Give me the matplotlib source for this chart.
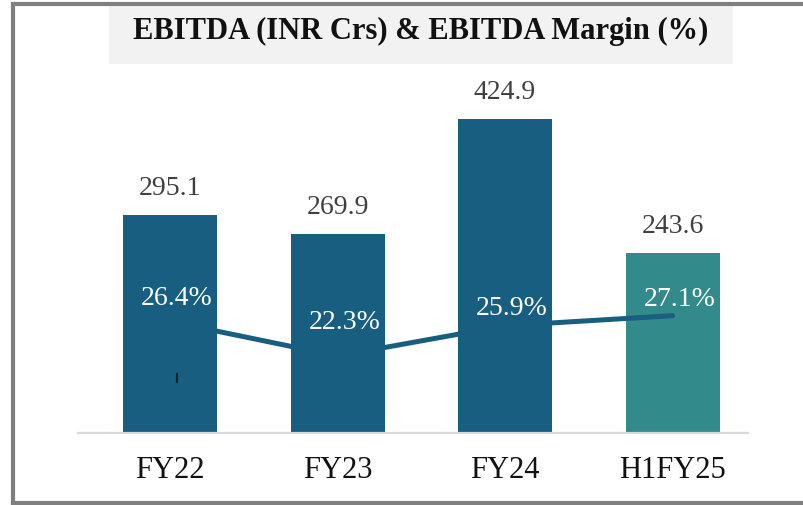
import matplotlib.pyplot as plt
from matplotlib.lines import Line2D
from matplotlib.patches import Rectangle

plt.rcParams['font.family'] = ['Liberation Serif', 'DejaVu Serif']

# ---------- data ----------
periods = ['FY22', 'FY23', 'FY24', 'H1FY25']
ebitda = [295.1, 269.9, 424.9, 243.6]          # INR Crs
margin = [26.4, 22.3, 25.9, 27.1]              # %

bar_colors = ['#175E80', '#175E80', '#175E80', '#328A8A']
line_color = '#175E80'
value_color = '#404040'

# label nudges (points) for the margin labels
pct_dy = [16.3, 23.8, 12.2, 11.4]

W, H = 804, 505
fig = plt.figure(figsize=(W / 100, H / 100), dpi=100)

# outer frame (open on the right) and title band
fig.add_artist(Line2D([13 / W, 13 / W], [1 - 4 / H, 1 - 503 / H], color='#808080', lw=3))
fig.add_artist(Line2D([13 / W, 1], [1 - 4 / H, 1 - 4 / H], color='#808080', lw=3))
fig.add_artist(Line2D([13 / W, 1], [1 - 503 / H, 1 - 503 / H], color='#808080', lw=3))
fig.add_artist(Rectangle((109 / W, 1 - 64 / H), (733 - 109) / W, (64 - 6) / H,
                         transform=fig.transFigure, facecolor='#F2F2F2', edgecolor='none'))
fig.text(421 / W, 1 - 31 / H, 'EBITDA (INR Crs) & EBITDA Margin (%)',
         ha='center', va='center', fontsize=22, fontweight='bold', color='#111111')

# ---------- bars ----------
ax = fig.add_axes([78 / W, (H - 433) / H, 670 / W, 363 / H])
x = list(range(len(periods)))
ax.bar(x, ebitda, width=0.56, color=bar_colors, zorder=2)
ax.set_xlim(-0.55, 3.45)
ax.set_ylim(0, 363 * 1.353)
ax.set_yticks([])
for s in ['top', 'left', 'right']:
    ax.spines[s].set_visible(False)
ax.spines['bottom'].set_color('#D9D9D9')
ax.spines['bottom'].set_linewidth(1.6)
ax.set_xticks(x, periods, fontsize=22, color='#111111')
ax.tick_params(axis='x', length=0, pad=16.5)

for xi, v in zip(x, ebitda):
    ax.annotate(f'{v:.1f}', (xi, v), xytext=(0, 18.7), textcoords='offset points',
                ha='center', va='center', fontsize=20, color=value_color)

# ---------- margin line ----------
ax2 = ax.twinx()
ax2.set_ylim(13.13, 56.35)
ax2.set_yticks([])
for s in ax2.spines.values():
    s.set_visible(False)
ax2.plot(x, margin, color=line_color, lw=3.6, solid_capstyle='round', zorder=3)
for xi, m, dy in zip(x, margin, pct_dy):
    ax2.annotate(f'{m:.1f}%', (xi, m), xytext=(5, dy), textcoords='offset points',
                 ha='center', va='center', fontsize=20, color='white')

# small dark tick inside the first bar
fig.add_artist(Line2D([177 / W, 177 / W], [1 - 374 / H, 1 - 382 / H], color='#0B2536', lw=1.5))

fig.savefig('out.png', dpi=100)
